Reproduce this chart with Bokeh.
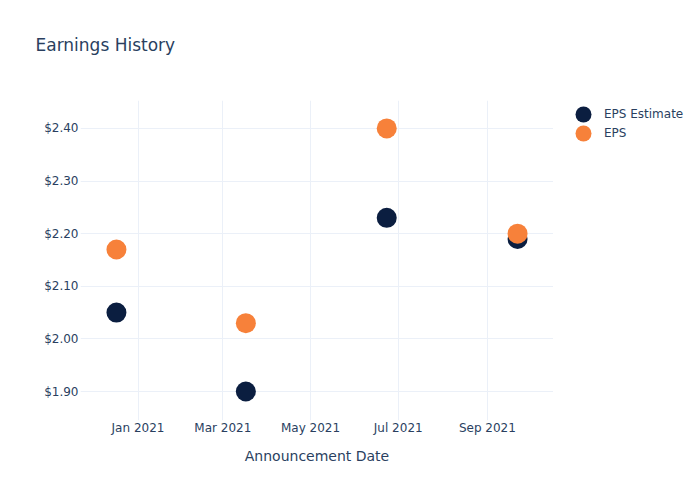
from datetime import datetime
from bokeh.plotting import figure
from bokeh.layouts import row
from bokeh.models import (ColumnDataSource, FixedTicker, NumeralTickFormatter,
                          DatetimeTickFormatter, Range1d, Legend, LegendItem)
from bokeh.embed import file_html
from bokeh.resources import INLINE

dates = ["2020-12-17", "2021-03-17", "2021-06-23", "2021-09-22"]
eps_estimate = [2.05, 1.90, 2.23, 2.19]
eps_actual = [2.17, 2.03, 2.40, 2.20]
y_ticks = [1.9, 2.0, 2.1, 2.2, 2.3, 2.4]
x_ticks = ["2021-01-01", "2021-03-01", "2021-05-01", "2021-07-01", "2021-09-01"]
series_names = ["EPS Estimate", "EPS"]

FONT = "DejaVu Sans"
TXT = "#2a3f5f"
GRID = "#ebf0f8"
NAVY = "#0b1e40"
ORANGE = "#f7813a"

def ms(s):
    return datetime.strptime(s, "%Y-%m-%d").timestamp() * 1000.0

xd = [datetime.strptime(d, "%Y-%m-%d") for d in dates]
src = ColumnDataSource(dict(x=xd, est=eps_estimate, eps=eps_actual))

p = figure(width=553, height=500, x_axis_type="datetime", output_backend="svg",
           toolbar_location=None, min_border_left=80, min_border_right=0,
           min_border_top=100, min_border_bottom=80,
           x_range=Range1d(ms("2020-11-22"), ms("2021-10-17")),
           y_range=Range1d(1.845, 2.453))
p.outline_line_color = None
p.background_fill_color = "white"

p.title.text = "Earnings History\n"
p.title.text_font = FONT
p.title.text_font_size = "17px"
p.title.text_font_style = "normal"
p.title.text_color = TXT
p.title.align = "left"
p.title.offset = -45
p.title.standoff = 52

r1 = p.scatter("x", "est", source=src, size=20, color=NAVY, line_color=None)
r2 = p.scatter("x", "eps", source=src, size=20, color=ORANGE, line_color=None)

p.xaxis.ticker = FixedTicker(ticks=[ms(t) for t in x_ticks])
fmt = "%b %Y"
p.xaxis.formatter = DatetimeTickFormatter(days=fmt, months=fmt, years=fmt, hours=fmt,
                                          minutes=fmt, seconds=fmt, milliseconds=fmt,
                                          minsec=fmt, hourmin=fmt)
p.yaxis.ticker = FixedTicker(ticks=y_ticks)
p.yaxis.formatter = NumeralTickFormatter(format="$0.00")

for ax in (p.xaxis, p.yaxis):
    ax.axis_line_color = None
    ax.major_tick_line_color = None
    ax.minor_tick_line_color = None
    ax.major_tick_out = 0
    ax.major_tick_in = 0
    ax.minor_tick_out = 0
    ax.minor_tick_in = 0
    ax.major_label_text_font = FONT
    ax.major_label_text_font_size = "12px"
    ax.major_label_text_color = TXT
    ax.axis_label_text_font = FONT
    ax.axis_label_text_font_style = "normal"
    ax.axis_label_text_color = TXT
    ax.axis_label_text_font_size = "14px"

p.xaxis.axis_label = "Announcement Date"
p.xaxis.major_label_standoff = 0
p.xaxis.axis_label_standoff = 10
p.yaxis.major_label_standoff = 2

p.xgrid.grid_line_color = GRID
p.ygrid.grid_line_color = GRID

# legend panel (separate figure to the right of the plot area)
q = figure(width=147, height=500, output_backend="svg", toolbar_location=None,
           min_border=0, x_axis_location=None, y_axis_location=None,
           x_range=Range1d(0, 1), y_range=Range1d(0, 1))
q.outline_line_color = None
q.xgrid.visible = False
q.ygrid.visible = False
q1 = q.scatter("x", "est", source=src, size=20, color=NAVY, line_color=None)
q2 = q.scatter("x", "eps", source=src, size=20, color=ORANGE, line_color=None)

for name, rend, loc in ((series_names[0], q1, (10, 286)), (series_names[1], q2, (10, 267))):
    lg = Legend(items=[LegendItem(label=name, renderers=[rend])],
                location=loc, padding=0, spacing=0, margin=0,
                glyph_width=40, glyph_height=40, label_height=19, label_standoff=1,
                border_line_color=None, background_fill_alpha=0,
                label_text_font=FONT, label_text_font_size="12px", label_text_color=TXT)
    q.add_layout(lg, "center")

layout = row(p, q)
open("out.html", "w").write(file_html(layout, INLINE))
